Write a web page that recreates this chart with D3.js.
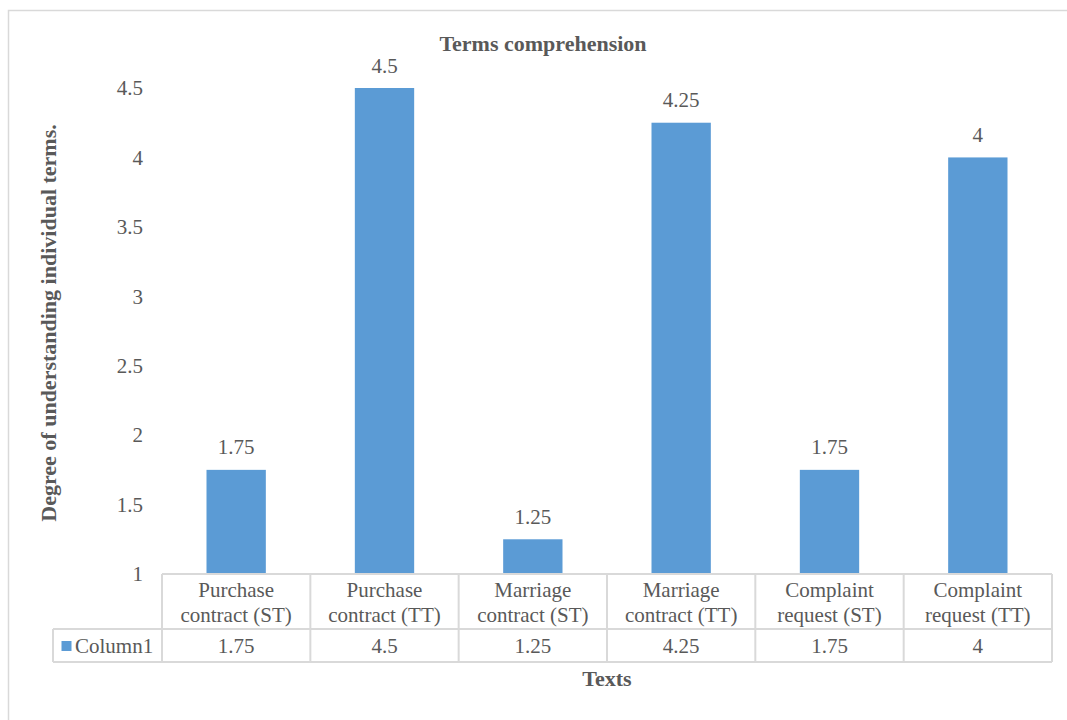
<!DOCTYPE html>
<html>
<head>
<meta charset="utf-8">
<script src="https://cdn.jsdelivr.net/npm/d3@7"></script>
<style>
  html, body { margin: 0; padding: 0; background: #fff; }
  svg { display: block; font-family: "Liberation Serif", "Times New Roman", serif; }
</style>
</head>
<body>
<svg id="chart" width="1067" height="720"></svg>
<script>
// Terms comprehension scores per text
const categories = [
  ["Purchase", "contract (ST)"],
  ["Purchase", "contract (TT)"],
  ["Marriage", "contract (ST)"],
  ["Marriage", "contract (TT)"],
  ["Complaint", "request (ST)"],
  ["Complaint", "request (TT)"]
];
const values = [1.75, 4.5, 1.25, 4.25, 1.75, 4];
const valueLabels = ["1.75", "4.5", "1.25", "4.25", "1.75", "4"];
const yTicks = [1, 1.5, 2, 2.5, 3, 3.5, 4, 4.5];
const seriesName = "Column1";

const svg = d3.select("#chart");
const textColor = "#595959";
const lineColor = "#d9d9d9";
const barColor = "#5b9bd5";
const fontFamily = "Liberation Serif, Times New Roman, serif";
const regularSize = 21, boldSize = 22;

const plotLeft = 162, plotRight = 1052, plotTop = 88, plotBase = 574;
const rowMid = 629, rowBottom = 662, legendLeft = 53;

const keys = categories.map((c, i) => i);
const x = d3.scaleBand().domain(keys).range([plotLeft, plotRight]).paddingInner(0.6).paddingOuter(0.3);
const cell = d3.scaleBand().domain(keys).range([plotLeft, plotRight]).padding(0);
const y = d3.scaleLinear().domain([1, 4.5]).range([plotBase, plotTop]);

// chart frame
svg.append("rect")
  .attr("x", 8.5).attr("y", 10.5).attr("width", 1100).attr("height", 800)
  .attr("fill", "none").attr("stroke", lineColor).attr("stroke-width", 1.5);

// title
svg.append("text")
  .attr("x", 543).attr("y", 51)
  .attr("text-anchor", "middle")
  .attr("font-size", boldSize).attr("font-weight", "bold").attr("fill", textColor)
  .text("Terms comprehension");

// y axis tick labels (no axis line)
const yAxis = d3.axisLeft(y).tickValues(yTicks).tickSize(0).tickPadding(0)
  .tickFormat(d3.format("~g"));
const yg = svg.append("g").attr("transform", "translate(143,0)").call(yAxis);
yg.select(".domain").remove();
yg.attr("font-family", fontFamily).attr("font-size", regularSize);
yg.selectAll("text").attr("fill", textColor);

// y axis title
svg.append("text")
  .attr("transform", "translate(56,323) rotate(-90)")
  .attr("text-anchor", "middle")
  .attr("font-size", boldSize).attr("font-weight", "bold").attr("fill", textColor)
  .text("Degree of understanding individual terms.");

// bars
svg.append("g").selectAll("rect").data(values).join("rect")
  .attr("x", (d, i) => x(i))
  .attr("width", x.bandwidth())
  .attr("y", d => y(d))
  .attr("height", d => y(1) - y(d))
  .attr("fill", barColor);

// data labels
svg.append("g").selectAll("text").data(values).join("text")
  .attr("x", (d, i) => x(i) + x.bandwidth() / 2)
  .attr("y", d => y(d) - 15.5)
  .attr("text-anchor", "middle")
  .attr("font-size", regularSize).attr("fill", textColor)
  .text((d, i) => valueLabels[i]);

// data table
const grid = svg.append("g").attr("stroke", lineColor).attr("stroke-width", 2).attr("fill", "none");
// horizontal lines
grid.append("line").attr("x1", plotLeft).attr("x2", plotRight).attr("y1", plotBase).attr("y2", plotBase);
grid.append("line").attr("x1", legendLeft).attr("x2", plotRight).attr("y1", rowMid).attr("y2", rowMid);
grid.append("line").attr("x1", legendLeft).attr("x2", plotRight).attr("y1", rowBottom).attr("y2", rowBottom);
// vertical lines
grid.append("line").attr("x1", legendLeft).attr("x2", legendLeft).attr("y1", rowMid).attr("y2", rowBottom);
keys.concat([keys.length]).forEach(i => {
  const xv = i < keys.length ? cell(i) : plotRight;
  grid.append("line").attr("x1", xv).attr("x2", xv).attr("y1", plotBase).attr("y2", rowBottom);
});

// category labels
const catG = svg.append("g");
categories.forEach((lines, i) => {
  const cx = cell(i) + cell.bandwidth() / 2;
  const t = catG.append("text")
    .attr("x", cx)
    .attr("text-anchor", "middle")
    .attr("font-size", regularSize).attr("fill", textColor);
  lines.forEach((ln, j) => {
    t.append("tspan").attr("x", cx).attr("y", 597 + j * 25).text(ln);
  });
});

// values row
svg.append("g").selectAll("text").data(values).join("text")
  .attr("x", (d, i) => cell(i) + cell.bandwidth() / 2)
  .attr("y", 653)
  .attr("text-anchor", "middle")
  .attr("font-size", regularSize).attr("fill", textColor)
  .text((d, i) => valueLabels[i]);

// legend key in table
svg.append("rect").attr("x", 61.5).attr("y", 641).attr("width", 10).attr("height", 10).attr("fill", barColor);
svg.append("text").attr("x", 75).attr("y", 653)
  .attr("font-size", regularSize).attr("fill", textColor).text(seriesName);

// x axis title
svg.append("text")
  .attr("x", 607).attr("y", 686)
  .attr("text-anchor", "middle")
  .attr("font-size", boldSize).attr("font-weight", "bold").attr("fill", textColor)
  .text("Texts");
</script>
</body>
</html>
